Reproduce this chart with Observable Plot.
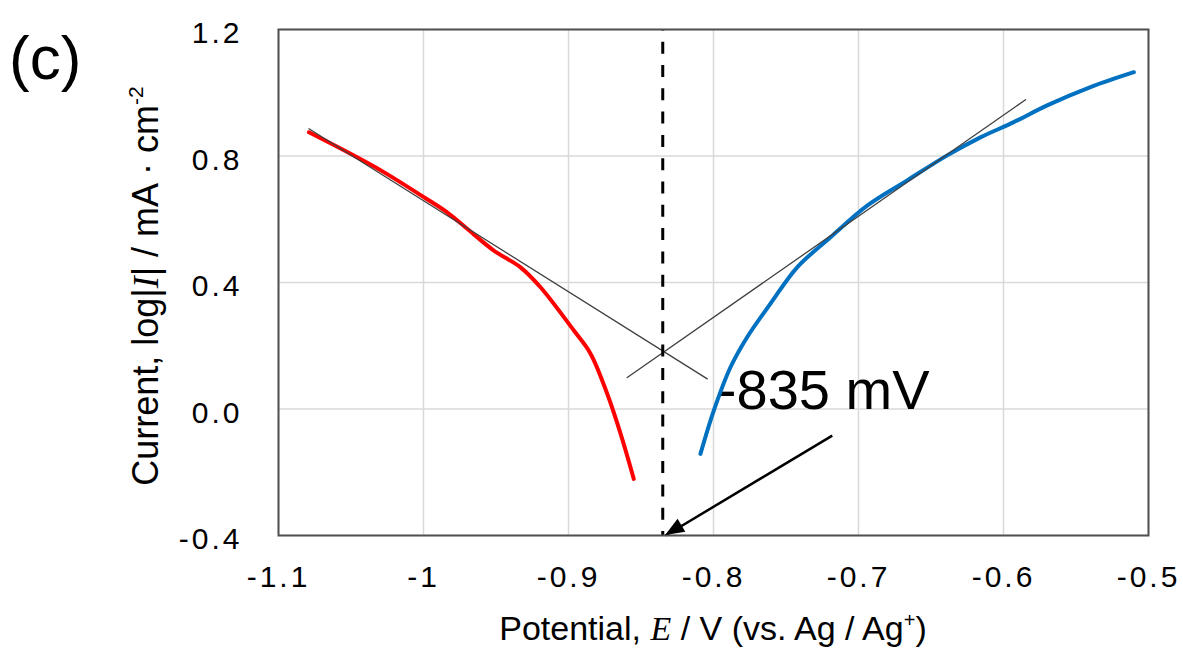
<!DOCTYPE html>
<html>
<head>
<meta charset="utf-8">
<script src="https://cdn.jsdelivr.net/npm/d3@7"></script>
<script src="https://cdn.jsdelivr.net/npm/@observablehq/plot@0.6"></script>
<style>
  html, body { margin: 0; padding: 0; background: #fff; }
  #chart svg { display: block; }
</style>
</head>
<body>
<div id="chart"></div>
<script>
// ---- data ----
const xTicks = [-1.1, -1.0, -0.9, -0.8, -0.7, -0.6, -0.5];
const yTicks = [-0.4, 0.0, 0.4, 0.8, 1.2];

// cathodic branch (red)
const cathodicE = [-1.079, -1.0503, -1.0274, -0.9998, -0.9837, -0.9699, -0.9515, -0.9331, -0.9193, -0.8963, -0.8848, -0.8733, -0.8641, -0.855];
const cathodicLogI = [0.875, 0.807, 0.749, 0.670, 0.622, 0.570, 0.501, 0.448, 0.385, 0.248, 0.175, 0.048, -0.078, -0.221];

// anodic branch (blue)
const anodicE = [-0.809, -0.7998, -0.7883, -0.7768, -0.7607, -0.7423, -0.7193, -0.694, -0.6664, -0.6388, -0.6159, -0.5929, -0.5699, -0.54, -0.5101];
const anodicLogI = [-0.142, -0.005, 0.132, 0.227, 0.333, 0.448, 0.543, 0.643, 0.723, 0.802, 0.859, 0.907, 0.960, 1.018, 1.065];

// Tafel extrapolation lines
const tafelCathodicE = [-1.079, -0.8043];
const tafelCathodicLogI = [0.886, 0.0954];
const tafelAnodicE = [-0.8595, -0.5848];
const tafelAnodicLogI = [0.0995, 0.978];

// corrosion potential annotation
const ecorr = -0.835;
const labelE = -0.797;
const labelLogI = 0.0;
const arrowE = [-0.7181, -0.833];
const arrowLogI = [-0.084, -0.4];

const toPts = (xs, ys) => xs.map((x, i) => ({x, y: ys[i]}));
const red = toPts(cathodicE, cathodicLogI);
const blue = toPts(anodicE, anodicLogI);
const tafelC = toPts(tafelCathodicE, tafelCathodicLogI);
const tafelA = toPts(tafelAnodicE, tafelAnodicLogI);
const arrowSeg = [{x1: arrowE[0], y1: arrowLogI[0], x2: arrowE[1], y2: arrowLogI[1]}];
const label = [{x: labelE, y: labelLogI, text: `${Math.round(ecorr * 1000)} mV`}];

const W = 1183, H = 648;
const chart = Plot.plot({
  width: W,
  height: H,
  marginLeft: 278,
  marginRight: 35,
  marginTop: 29,
  marginBottom: 113,
  style: {fontFamily: "'Liberation Sans', Arial, sans-serif", color: "#000", background: "#fff"},
  x: {domain: [-1.1, -0.5]},
  y: {domain: [-0.4, 1.2]},
  marks: [
    Plot.gridX(xTicks, {stroke: "#d9d9d9", strokeOpacity: 1, strokeWidth: 1.5}),
    Plot.gridY(yTicks, {stroke: "#d9d9d9", strokeOpacity: 1, strokeWidth: 1.5}),
    Plot.axisX({ticks: xTicks, tickFormat: d => String(Math.round(d * 10) / 10), tickSize: 0, tickPadding: 30, fontSize: 30, label: null, fill: "#000"}),
    Plot.axisY({ticks: yTicks, tickFormat: d => (Math.round(d * 10) / 10).toFixed(1), tickSize: 0, tickPadding: 36, fontSize: 30, label: null, dy: 4, fill: "#000"}),
    Plot.text(label, {x: "x", y: "y", text: "text", textAnchor: "start", lineAnchor: "middle", dy: -18, fontSize: 56, fill: "#000"}),
    Plot.line(red, {x: "x", y: "y", stroke: "#ff0000", strokeWidth: 4, curve: "catmull-rom"}),
    Plot.line(blue, {x: "x", y: "y", stroke: "#0070c0", strokeWidth: 4, curve: "catmull-rom"}),
    Plot.line(tafelC, {x: "x", y: "y", stroke: "#404040", strokeWidth: 1.3}),
    Plot.line(tafelA, {x: "x", y: "y", stroke: "#404040", strokeWidth: 1.3}),
    Plot.ruleX([ecorr], {x: d => d, y1: 1.2, y2: -0.4, stroke: "#000", strokeWidth: 3, strokeDasharray: "12,11.3", strokeDashoffset: 10.6}),
    Plot.link(arrowSeg, {x1: "x1", y1: "y1", x2: "x2", y2: "y2", stroke: "#000", strokeWidth: 2.5}),
    Plot.frame({stroke: "#505050", strokeWidth: 2})
  ]
});
document.getElementById("chart").appendChild(chart);

const svg = d3.select(chart);
const xs = chart.scale("x"), ys = chart.scale("y");

// tick label styling (all texts that belong to an axis group)
svg.selectAll("text").each(function () {
  const g = this.closest("g[aria-label]");
  const lab = g ? g.getAttribute("aria-label") : "";
  if (/axis/i.test(lab)) {
    d3.select(this).attr("font-size", 30).attr("letter-spacing", "3px");
    d3.select(g).attr("font-size", 30);
  }
});

// arrow head (filled triangle) at the arrow tip, oriented along the arrow
{
  const s = arrowSeg[0];
  const px1 = xs.apply(s.x1), py1 = ys.apply(s.y1);
  const px2 = xs.apply(s.x2), py2 = ys.apply(s.y2);
  const ang = Math.atan2(py2 - py1, px2 - px1);
  const L = 19, Wd = 7.5;
  const bx = px2 - L * Math.cos(ang), by = py2 - L * Math.sin(ang);
  const nx = -Math.sin(ang), ny = Math.cos(ang);
  const pts = [[px2, py2], [bx + Wd * nx, by + Wd * ny], [bx - Wd * nx, by - Wd * ny]];
  svg.append("path").attr("d", "M" + pts.map(p => p.join(",")).join("L") + "Z").attr("fill", "#000");
}

const xMid = (xs.apply(-1.1) + xs.apply(-0.5)) / 2;
const yMid = (ys.apply(-0.4) + ys.apply(1.2)) / 2;

// panel label
svg.append("text").attr("x", 9).attr("y", 79).attr("text-anchor", "start").attr("font-size", 62).attr("fill", "#000").text("(c)");

// x axis title
const xt = svg.append("text").attr("x", xMid).attr("y", 640).attr("text-anchor", "middle").attr("font-size", 34).attr("fill", "#000");
xt.append("tspan").text("Potential, ");
xt.append("tspan").attr("font-family", "'Liberation Serif', 'Times New Roman', serif").attr("font-style", "italic").text("E");
xt.append("tspan").text(" / V (vs. Ag / Ag");
xt.append("tspan").attr("font-size", 20).attr("dy", -13).text("+");
xt.append("tspan").attr("dy", 13).text(")");

// y axis title
const yt = svg.append("text").attr("transform", `translate(158,${yMid + 4}) rotate(-90)`).attr("text-anchor", "middle").attr("font-size", 36).attr("fill", "#000");
yt.append("tspan").text("Current, log|");
yt.append("tspan").attr("font-family", "'Liberation Serif', 'Times New Roman', serif").attr("font-style", "italic").text("I");
yt.append("tspan").text("| / mA \u00B7 cm");
yt.append("tspan").attr("font-size", 21).attr("dy", -15).text("-2");
</script>
</body>
</html>
